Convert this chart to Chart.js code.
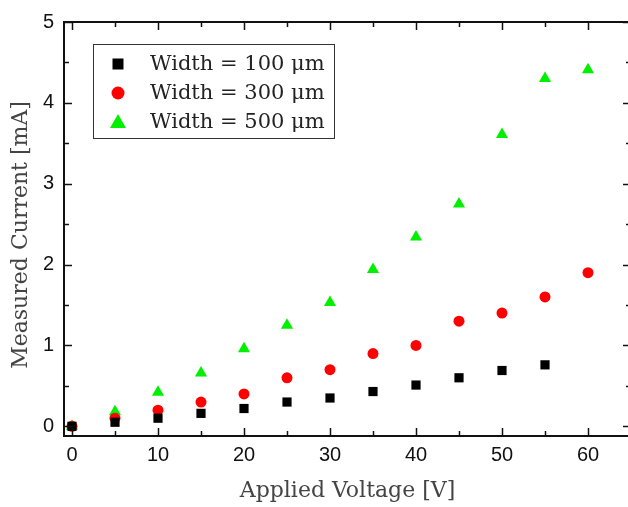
<!DOCTYPE html>
<html>
<head>
<meta charset="utf-8">
<script src="https://cdn.jsdelivr.net/npm/chart.js@4/dist/chart.umd.min.js"></script>
<style>
  html, body { margin: 0; padding: 0; background: #fff; overflow: hidden; }
  #wrap { width: 640px; height: 507px; position: relative; }
</style>
</head>
<body>
<div id="wrap"><canvas id="c" width="640" height="507"></canvas></div>
<script>
// ---- data ----
const voltages = [0, 5, 10, 15, 20, 25, 30, 35, 40, 45, 50, 55, 60];
const width100 = [0, 0.05, 0.10, 0.16, 0.22, 0.30, 0.35, 0.43, 0.51, 0.60, 0.69, 0.76];
const width300 = [0, 0.10, 0.20, 0.30, 0.40, 0.60, 0.70, 0.90, 1.00, 1.30, 1.40, 1.60, 1.90];
const width500 = [0, 0.18, 0.42, 0.66, 0.96, 1.25, 1.53, 1.94, 2.34, 2.75, 3.61, 4.30, 4.41];
const seriesLabels = ['Width = 100 \u03bcm', 'Width = 300 \u03bcm', 'Width = 500 \u03bcm'];
const xTicks = [0, 10, 20, 30, 40, 50, 60];
const yTicks = [0, 1, 2, 3, 4, 5];
const xMinorTicks = [5, 15, 25, 35, 45, 55, 65];
const yMinorTicks = [0.5, 1.5, 2.5, 3.5, 4.5];
const xTitle = 'Applied Voltage [V]';
const yTitle = 'Measured Current [mA]';

function toPoints(vals) { return vals.map((v, i) => ({ x: voltages[i], y: v })); }

const frameTicks = {
  id: 'frameTicks',
  afterDraw(chart) {
    const { ctx, chartArea: { left, right, top, bottom }, scales: { x, y } } = chart;
    ctx.save();
    ctx.strokeStyle = '#111';
    ctx.lineWidth = 1.5;
    const line = (x1, y1, x2, y2) => { ctx.beginPath(); ctx.moveTo(x1, y1); ctx.lineTo(x2, y2); ctx.stroke(); };
    xTicks.forEach(v => { const p = Math.round(x.getPixelForValue(v)) + 0.5; line(p, bottom, p, bottom - 8); line(p, top, p, top + 8); });
    xMinorTicks.forEach(v => { const p = Math.round(x.getPixelForValue(v)) + 0.5; line(p, bottom, p, bottom - 5); line(p, top, p, top + 5); });
    yTicks.forEach(v => { const p = Math.round(y.getPixelForValue(v)) + 0.5; line(left, p, left + 8, p); line(right, p, right - 8, p); });
    yMinorTicks.forEach(v => { const p = Math.round(y.getPixelForValue(v)) + 0.5; line(left, p, left + 5, p); line(right, p, right - 5, p); });
    ctx.lineWidth = 2;
    ctx.strokeRect(left, top, right - left, bottom - top);
    // y axis title (drawn here to match the reference's vertical position)
    ctx.fillStyle = '#444';
    ctx.font = '22px "DejaVu Serif"';
    ctx.textAlign = 'center';
    ctx.textBaseline = 'middle';
    ctx.translate(21, 235);
    ctx.rotate(-Math.PI / 2);
    ctx.fillText(yTitle, 0, 0);
    ctx.restore();
  }
};

const boxLegend = {
  id: 'boxLegend',
  afterDraw(chart) {
    const ctx = chart.ctx;
    ctx.save();
    ctx.strokeStyle = '#333';
    ctx.lineWidth = 1;
    ctx.strokeRect(93.5, 44.5, 241, 94);
    ctx.font = '21px "DejaVu Serif"';
    ctx.textBaseline = 'middle';
    chart.data.datasets.forEach((ds, i) => {
      const cy = 64 + i * 29;
      const cx = 118;
      ctx.fillStyle = ds.backgroundColor;
      ctx.beginPath();
      if (ds.pointStyle === 'rect') {
        ctx.rect(cx - 5.5, cy - 5.5, 11, 11);
      } else if (ds.pointStyle === 'circle') {
        ctx.arc(cx, cy, 6.5, 0, Math.PI * 2);
      } else {
        ctx.moveTo(cx, cy - 8); ctx.lineTo(cx + 8, cy + 6); ctx.lineTo(cx - 8, cy + 6); ctx.closePath();
      }
      ctx.fill();
      ctx.fillStyle = '#222';
      ctx.fillText(ds.label, 150, cy + 1);
    });
    ctx.restore();
  }
};

new Chart(document.getElementById('c'), {
  type: 'scatter',
  data: {
    datasets: [
      { label: seriesLabels[0], data: toPoints(width100), pointStyle: 'rect', pointRadius: 6.5, backgroundColor: '#000000', borderColor: '#000000', borderWidth: 0 },
      { label: seriesLabels[1], data: toPoints(width300), pointStyle: 'circle', pointRadius: 5.5, backgroundColor: '#ff0000', borderColor: '#ff0000', borderWidth: 0 },
      { label: seriesLabels[2], data: toPoints(width500), pointStyle: 'triangle', pointRadius: 7, backgroundColor: '#00f000', borderColor: '#00f000', borderWidth: 0 }
    ]
  },
  options: {
    responsive: false,
    animation: false,
    events: [],
    layout: { padding: { top: 18, right: 9, left: 0, bottom: 0 } },
    plugins: { legend: { display: false }, tooltip: { enabled: false } },
    scales: {
      x: {
        type: 'linear', min: -0.93, max: 65,
        afterBuildTicks: s => { s.ticks = xTicks.map(v => ({ value: v })); },
        afterFit: s => { s.height = 71; },
        grid: { display: false, drawTicks: false },
        border: { display: false },
        ticks: { color: '#111', font: { family: '"Liberation Sans"', size: 20 }, padding: 7, maxRotation: 0 },
        title: { display: true, text: xTitle, color: '#444', font: { family: '"DejaVu Serif"', size: 22 }, padding: { top: 0, bottom: 3 } }
      },
      y: {
        type: 'linear', min: -0.12, max: 5,
        afterBuildTicks: s => { s.ticks = yTicks.map(v => ({ value: v })); },
        afterFit: s => { s.width = 64; },
        grid: { display: false, drawTicks: false },
        border: { display: false },
        ticks: { color: '#111', font: { family: '"Liberation Sans"', size: 20 }, padding: 10 },
        title: { display: false }
      }
    }
  },
  plugins: [frameTicks, boxLegend]
});
</script>
</body>
</html>
